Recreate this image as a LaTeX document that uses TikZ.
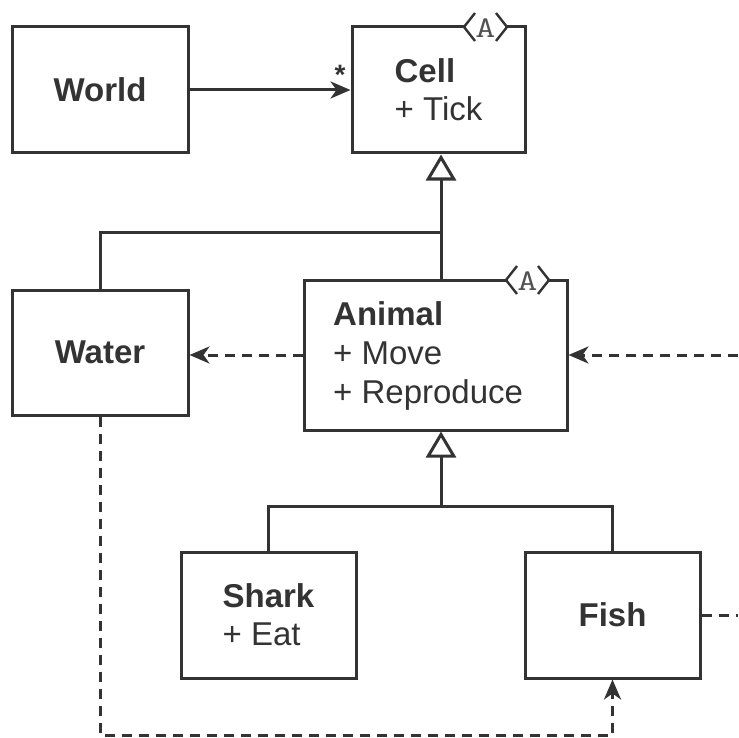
\documentclass[tikz,border=0pt]{standalone}
\usepackage{fontspec}
\usepackage{graphicx}
\setmainfont{Liberation Sans}
\usetikzlibrary{arrows.meta}
\definecolor{ink}{HTML}{333333}
\begin{document}
\begin{tikzpicture}[x=1pt,y=-1pt,
  box/.style={draw=ink, line width=3pt, fill=white, inner sep=0pt,
    font=\fontsize{33}{38}\selectfont, text=ink, align=left},
  lbl/.style={inner sep=0pt, font=\fontsize{33}{39}\selectfont, text=ink, align=left},
  conn/.style={draw=ink, line width=3pt},
  dep/.style={conn, dash pattern=on 10pt off 7pt},
  head/.style={-{Stealth[length=20pt,width=17pt,inset=6pt]}},
  inh/.style={-{Triangle[fill=white,length=26pt,width=30pt]}},
  badge/.style={inner sep=0pt, font=\ttfamily\fontsize{30}{30}\selectfont, text=ink!85},
]
\useasboundingbox[fill=white] (0,0) rectangle (738,738);

% boxes
\node[box, minimum width=176pt, minimum height=126pt] (world) at (100,90) {\textbf{World}};
\node[box, minimum width=173pt, minimum height=126pt] (cell) at (438.5,90) {\textbf{Cell}\\+ Tick};
\node[box, minimum width=176pt, minimum height=125pt] (water) at (100,352.5) {\textbf{Water}};
\node[box, minimum width=263pt, minimum height=150pt] (animal) at (435.5,355) {};
\node[lbl, anchor=base west] (animaltxt) at (333,403) {\textbf{Animal}\\+ Move\\+ Reproduce};
\node[box, minimum width=175pt, minimum height=126pt] (shark) at (268.5,615) {\textbf{Shark}\\+ Eat};
\node[box, minimum width=175pt, minimum height=126pt] (fish) at (612.5,615) {\textbf{Fish}};

% abstract badges
\fill[white] (466,20) rectangle (505,34);
\draw[conn, line width=2.4pt] (475,13) -- (464,27) -- (475,41);
\draw[conn, line width=2.4pt] (496,13) -- (507,27) -- (496,41);
\node[badge] (cellbadge) at (485.5,28) {\scalebox{1.3}[1]{A}};

\fill[white] (508,273) rectangle (547,287);
\draw[conn, line width=2.4pt] (517,266) -- (506,280) -- (517,294);
\draw[conn, line width=2.4pt] (538,266) -- (549,280) -- (538,294);
\node[badge] (animalbadge) at (527.5,281) {\scalebox{1.3}[1]{A}};

% association World -> Cell
\draw[conn, head] (world.east) -- (cell.west);
\node[lbl, font=\bfseries\fontsize{28}{28}\selectfont] (star) at (340,75) {*};

% inheritance Animal/Water -> Cell
\coordinate (j1) at (441,232);
\draw[conn, inh] (animal.north -| j1) -- (j1 |- cell.south);
\draw[conn] (j1) -| (water.north);

% inheritance Shark/Fish -> Animal
\coordinate (j2) at (441,506);
\draw[conn, inh] (j2) -- (j2 |- animal.south);
\draw[conn] (shark.north) |- (j2) -| (fish.north);

% dependencies
\draw[dep, head] (animal.west) -- (animal.west -| water.east);
\coordinate (r1) at (738,355);
\draw[dep, head] (r1) -- (animal.east);
\coordinate (r2) at (738,615);
\draw[dep] (fish.east) -- (r2);
\coordinate (b1) at (100,735);
\draw[dep, head] (water.south) -- (b1) -| (fish.south);
\end{tikzpicture}
\end{document}
